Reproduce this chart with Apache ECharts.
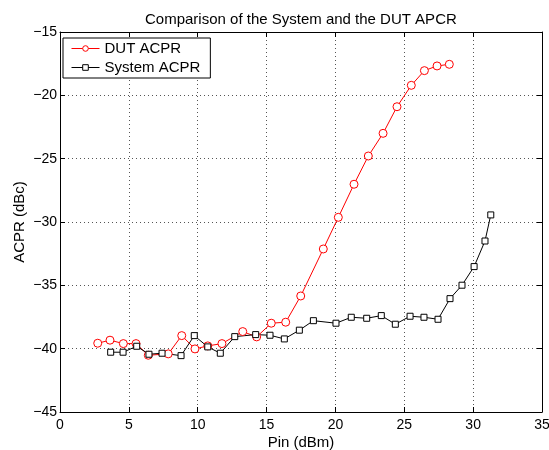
<!DOCTYPE html>
<html>
<head>
<meta charset="utf-8">
<script src="https://cdn.jsdelivr.net/npm/echarts@6/dist/echarts.min.js"></script>
<style>html,body{margin:0;padding:0;background:#fff;}#c{width:549px;height:450px;}</style>
</head>
<body>
<div id="c"></div>
<script>
const dutX = [2.74,3.63,4.60,5.52,6.41,7.86,8.84,9.80,10.73,11.76,13.27,14.28,15.34,16.39,17.48,19.12,20.21,21.35,22.39,23.46,24.47,25.51,26.46,27.38,28.27];
const dutY = [-39.57,-39.33,-39.60,-39.60,-40.52,-40.41,-38.97,-40.02,-39.78,-39.60,-38.65,-39.07,-37.99,-37.91,-35.84,-32.13,-29.63,-27.02,-24.79,-23.00,-20.90,-19.21,-18.05,-17.68,-17.55];
const sysX = [3.68,4.58,5.57,6.46,7.41,8.79,9.75,10.73,11.64,12.69,14.21,15.25,16.29,17.38,18.40,20.04,21.15,22.27,23.33,24.35,25.42,26.43,27.45,28.32,29.19,30.07,30.86,31.28];
const sysY = [-40.28,-40.28,-39.81,-40.44,-40.36,-40.55,-38.97,-39.86,-40.36,-39.05,-38.89,-38.94,-39.23,-38.54,-37.79,-37.99,-37.52,-37.60,-37.39,-38.07,-37.44,-37.52,-37.68,-36.05,-34.99,-33.52,-31.50,-29.44];
const titleText = 'Comparison of the System and the DUT APCR';
const xName = 'Pin (dBm)';
const yName = 'ACPR (dBc)';
const seriesNames = ['DUT ACPR', 'System ACPR'];

const font = 'Liberation Sans, Arial, Helvetica, sans-serif';
const fmt = v => String(v).replace('-', '\u2212');
const zip = (a, b) => a.map((v, i) => [v, b[i]]);
const gridLine = {show: true, lineStyle: {color: '#555', type: [1, 3], width: 1}};
const tick = {show: true, inside: true, length: 5, lineStyle: {color: '#000'}};
const line = {show: true, onZero: false, lineStyle: {color: '#000', width: 1}};

const chart = echarts.init(document.getElementById('c'), null, {renderer: 'canvas'});
chart.setOption({
  animation: false,
  backgroundColor: '#fff',
  title: {text: titleText, left: 140, top: 7,
    textStyle: {fontFamily: font, fontSize: 15, fontWeight: 'normal', color: '#000'}},
  grid: {left: 60, right: 7, top: 32, bottom: 38, containLabel: false, outerBoundsMode: 'none'},
  legend: {
    left: 63, top: 38, orient: 'vertical', itemGap: 4, itemWidth: 28, itemHeight: 7,
    padding: [3, 10, 3, 8], borderColor: '#000', borderWidth: 1, backgroundColor: '#fff',
    lineStyle: {width: 1}, itemStyle: {borderWidth: 1},
    textStyle: {fontFamily: font, fontSize: 15, color: '#000'},
    data: seriesNames
  },
  xAxis: [
    {type: 'value', min: 0, max: 35, interval: 5, position: 'bottom',
     name: xName, nameLocation: 'middle', nameGap: 23, nameMoveOverlap: false,
     nameTextStyle: {fontFamily: font, fontSize: 15, color: '#000'},
     axisLine: line, axisTick: tick, splitLine: gridLine,
     axisLabel: {fontFamily: font, fontSize: 14, color: '#000', margin: 6, formatter: fmt}},
    {type: 'value', min: 0, max: 35, interval: 5, position: 'top',
     axisLine: line, axisTick: tick, splitLine: {show: false}, axisLabel: {show: false}}
  ],
  yAxis: [
    {type: 'value', min: -45, max: -15, interval: 5, position: 'left',
     name: yName, nameLocation: 'middle', nameGap: 33, nameRotate: 90, nameMoveOverlap: false,
     nameTextStyle: {fontFamily: font, fontSize: 15, color: '#000'},
     axisLine: line, axisTick: tick, splitLine: gridLine,
     axisLabel: {fontFamily: font, fontSize: 14, color: '#000', margin: 3, formatter: fmt}},
    {type: 'value', min: -45, max: -15, interval: 5, position: 'right',
     axisLine: line, axisTick: tick, splitLine: {show: false}, axisLabel: {show: false}}
  ],
  series: [
    {name: seriesNames[0], type: 'line', data: zip(dutX, dutY),
     symbol: 'circle', symbolSize: 8, showAllSymbol: true,
     itemStyle: {color: '#fff', borderColor: '#ff0000', borderWidth: 1},
     lineStyle: {color: '#ff0000', width: 1}, color: '#ff0000'},
    {name: seriesNames[1], type: 'line', data: zip(sysX, sysY),
     symbol: 'rect', symbolSize: 6, showAllSymbol: true,
     itemStyle: {color: '#fff', borderColor: '#000', borderWidth: 1},
     lineStyle: {color: '#000', width: 1}, color: '#000'}
  ]
});
</script>
</body>
</html>
